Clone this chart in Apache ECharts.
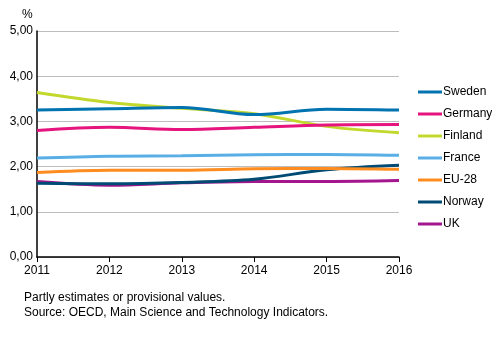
<!DOCTYPE html>
<html><head><meta charset="utf-8">
<script src="https://cdn.jsdelivr.net/npm/echarts@6/dist/echarts.min.js"></script>
<style>html,body{margin:0;padding:0;background:#fff}#c{width:492px;height:340px}</style>
</head><body><div id="c"></div>
<script>
var years = ['2011','2012','2013','2014','2015','2016'];
var sweden  = [3.25, 3.28, 3.31, 3.15, 3.27, 3.25];
var germany = [2.80, 2.87, 2.82, 2.87, 2.92, 2.93];
var finland = [3.64, 3.42, 3.29, 3.17, 2.89, 2.75];
var france  = [2.19, 2.23, 2.24, 2.26, 2.27, 2.25];
var eu28    = [1.87, 1.92, 1.92, 1.95, 1.96, 1.94];
var norway  = [1.63, 1.62, 1.65, 1.72, 1.93, 2.03];
var uk      = [1.67, 1.59, 1.64, 1.67, 1.67, 1.69];
var names = ['Sweden','Germany','Finland','France','EU-28','Norway','UK'];
var colors = ['#0073b0','#e6147e','#c3d82c','#5aaee6','#ff8c1e','#004b74','#a3168e'];
var datas = [sweden, germany, finland, france, eu28, norway, uk];

var font = 'Liberation Sans, Arial, sans-serif';
var chart = echarts.init(document.getElementById('c'), null, {renderer:'canvas'});
var series = names.map(function(n,i){
  return {name:n, type:'line', data:datas[i], smooth:0.35, symbol:'none',
    lineStyle:{width:3, color:colors[i]}, itemStyle:{color:colors[i]}, z: 10-i};
});
chart.setOption({
  animation:false,
  color: colors,
  textStyle:{fontFamily:font},
  grid:{left:37, right:93, top:31, bottom:83, containLabel:false},
  xAxis:{type:'category', data:years, boundaryGap:false,
    axisLine:{lineStyle:{color:'#000', width:1.5}},
    axisTick:{length:5, lineStyle:{color:'#000'}, alignWithLabel:true},
    axisLabel:{color:'#000', fontSize:12, fontFamily:font, margin:8},
    splitLine:{show:false}},
  yAxis:{type:'value', min:0, max:5, interval:1,
    axisLine:{show:true, lineStyle:{color:'#000', width:1.5}},
    axisTick:{show:false},
    axisLabel:{color:'#000', fontSize:12, fontFamily:font, margin:4, formatter:function(v){return v.toFixed(2).replace('.',',');}},
    splitLine:{lineStyle:{color:'#bdbdbd', width:1}}},
  legend:{orient:'vertical', left:413, top:80, itemWidth:24, itemHeight:3, itemGap:8,
    icon:'rect',
    textStyle:{color:'#000', fontSize:12, fontFamily:font, lineHeight:14, padding:[0,0,0,-4]},
    data:names},
  graphic:[
    {type:'text', left:22, top:9, style:{text:'%', fill:'#000', font:'12px '+font}},
    {type:'text', left:24, top:292, style:{text:'Partly estimates or provisional values.', fill:'#000', font:'12px '+font}},
    {type:'text', left:24, top:307, style:{text:'Source: OECD, Main Science and Technology Indicators.', fill:'#000', font:'12px '+font}}
  ],
  series: series
});
</script></body></html>
